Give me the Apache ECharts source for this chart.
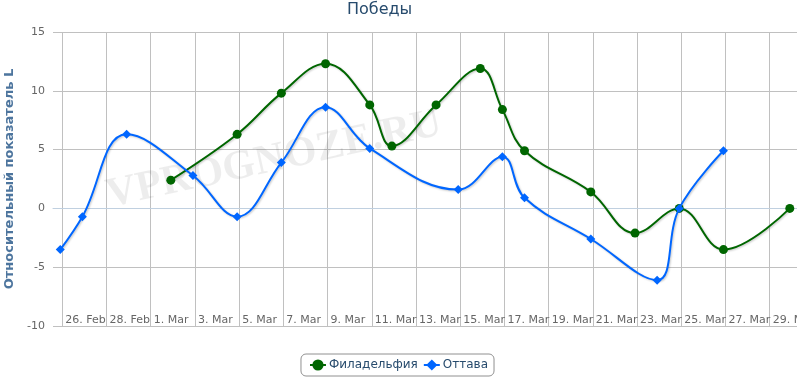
<!DOCTYPE html>
<html>
<head>
<meta charset="utf-8">
<script src="https://cdn.jsdelivr.net/npm/echarts@6/dist/echarts.min.js"></script>
<style>
  html, body { margin: 0; padding: 0; background: #fff; }
  #chart { width: 797px; height: 377px; }
</style>
</head>
<body>
<div id="chart"></div>
<script>
// days, counted from the first tick (26 Feb 2012)
var startDate = '2012-02-26';
var tzShiftHours = -2.2; // data stamps sit a little before midnight

var tickDates = ['2012-02-26', '2012-02-28', '2012-03-01', '2012-03-03', '2012-03-05', '2012-03-07',
    '2012-03-09', '2012-03-11', '2012-03-13', '2012-03-15', '2012-03-17', '2012-03-19', '2012-03-21',
    '2012-03-23', '2012-03-25', '2012-03-27', '2012-03-29'];
var tickLabels = ['26. Feb', '28. Feb', '1. Mar', '3. Mar', '5. Mar', '7. Mar', '9. Mar', '11. Mar',
    '13. Mar', '15. Mar', '17. Mar', '19. Mar', '21. Mar', '23. Mar', '25. Mar', '27. Mar', '29. Mar'];

var phiDates = ['2012-03-02', '2012-03-05', '2012-03-07', '2012-03-09', '2012-03-11', '2012-03-12',
    '2012-03-14', '2012-03-16', '2012-03-17', '2012-03-18', '2012-03-21', '2012-03-23', '2012-03-25',
    '2012-03-27', '2012-03-30'];
var phiValues = [2.4, 6.3, 9.8, 12.3, 8.8, 5.3, 8.8, 11.9, 8.4, 4.9, 1.4, -2.1, 0, -3.5, 0];

var ottDates = ['2012-02-26', '2012-02-27', '2012-02-29', '2012-03-03', '2012-03-05', '2012-03-07',
    '2012-03-09', '2012-03-11', '2012-03-15', '2012-03-17', '2012-03-18', '2012-03-21', '2012-03-24',
    '2012-03-25', '2012-03-27'];
var ottValues = [-3.5, -0.7, 6.3, 2.8, -0.7, 3.9, 8.6, 5.1, 1.6, 4.4, 0.9, -2.6, -6.1, 0, 4.9];

function dayIndex(s) {
    var p = s.split('-');
    var a = startDate.split('-');
    return (Date.UTC(+p[0], p[1] - 1, +p[2]) - Date.UTC(+a[0], a[1] - 1, +a[2])) / 86400000;
}

function toPoints(dates, values) {
    return dates.map(function (d, i) {
        return [dayIndex(d) + tzShiftHours / 24, values[i]];
    });
}

var tickValues = tickDates.map(dayIndex);
var labelByDay = {};
tickValues.forEach(function (v, i) { labelByDay[v] = tickLabels[i]; });

var lineShadow = {
    shadowColor: 'rgba(0,0,0,0.22)',
    shadowBlur: 2,
    shadowOffsetX: 1,
    shadowOffsetY: 1
};

var myChart = echarts.init(document.getElementById('chart'));
myChart.setOption({
    animation: false,
    textStyle: {
        fontFamily: 'DejaVu Sans'
    },
    title: {
        text: 'Победы',
        left: 347,
        top: 2,
        padding: 0,
        textStyle: {
            color: '#274b6d',
            fontSize: 16,
            fontWeight: 'normal',
            fontFamily: 'DejaVu Sans'
        }
    },
    legend: {
        left: 'center',
        bottom: 1,
        padding: [5, 6, 5, 8],
        itemGap: 5,
        itemWidth: 16,
        itemHeight: 14,
        borderColor: '#909090',
        borderWidth: 1,
        borderRadius: 5,
        textStyle: {
            color: '#274b6d',
            fontSize: 12,
            padding: [0, 0, 0, -2]
        },
        data: ['Филадельфия', 'Оттава']
    },
    graphic: [{
        type: 'text',
        x: 274,
        y: 160,
        rotation: 0.215,
        silent: true,
        z: 1,
        style: {
            text: 'VPROGNOZE.RU',
            font: 'bold 42px "Liberation Serif"',
            fill: 'rgba(0,0,0,0.07)',
            align: 'center',
            verticalAlign: 'middle'
        }
    }],
    grid: {
        left: 53,
        right: 0,
        top: 32,
        bottom: 51,
        outerBoundsMode: 'none'
    },
    xAxis: {
        type: 'value',
        min: -0.421,
        max: 33.235,
        axisLine: {
            show: true,
            lineStyle: { color: '#C0D0E0', width: 1 }
        },
        axisTick: {
            show: false,
            customValues: tickValues
        },
        splitLine: {
            show: true,
            lineStyle: { color: '#C0C0C0', width: 1 }
        },
        axisLabel: {
            inside: true,
            customValues: tickValues,
            align: 'left',
            margin: 0,
            padding: [0, 0, 0, 3],
            color: '#666',
            fontSize: 11,
            hideOverlap: false,
            formatter: function (v) { return labelByDay[v] || ''; }
        }
    },
    yAxis: {
        type: 'value',
        min: -10,
        max: 15,
        interval: 5,
        name: 'Относительный показатель L',
        nameLocation: 'middle',
        nameGap: 35,
        nameTextStyle: {
            color: '#4d759e',
            fontSize: 13,
            fontWeight: 'bold'
        },
        axisLine: { show: false },
        axisTick: { show: false },
        splitLine: {
            lineStyle: { color: '#C0C0C0', width: 1 }
        },
        axisLabel: {
            margin: 8,
            color: '#666',
            fontSize: 11
        }
    },
    series: [
        {
            name: 'Филадельфия',
            type: 'line',
            smooth: 0.4,
            data: toPoints(phiDates, phiValues),
            symbol: 'circle',
            symbolSize: 9,
            z: 3,
            itemStyle: { color: '#006600' },
            lineStyle: Object.assign({ color: '#006600', width: 2 }, lineShadow)
        },
        {
            name: 'Оттава',
            type: 'line',
            smooth: 0.4,
            data: toPoints(ottDates, ottValues),
            symbol: 'diamond',
            symbolSize: 9,
            z: 4,
            itemStyle: { color: '#0066ff' },
            lineStyle: Object.assign({ color: '#0066ff', width: 2 }, lineShadow)
        }
    ]
});
</script>
</body>
</html>
